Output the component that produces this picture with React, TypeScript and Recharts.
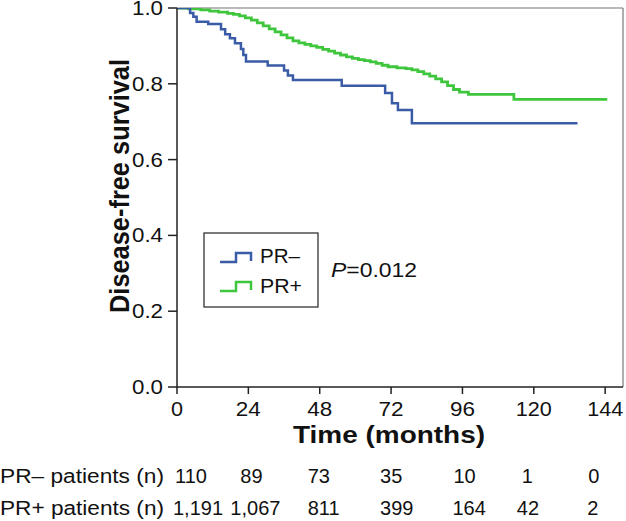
import React from 'react';
import { LineChart, Line, XAxis, YAxis, ReferenceLine, Customized } from 'recharts';

// ---------- data ----------
const monthTicks = [0, 24, 48, 72, 96, 120, 144];
const survivalTicks = [0, 0.2, 0.4, 0.6, 0.8, 1.0];

const prNegTimes = [0, 4.4, 5.5, 6.6, 10.5, 14.8, 16.2, 17.8, 19.5, 21.5, 22.3, 23.2, 30.5, 36, 37.3, 39, 55.4, 70, 72.3, 74.3, 79, 134.7];
const prNegSurvival = [1.0, 0.987, 0.977, 0.964, 0.958, 0.944, 0.931, 0.92, 0.907, 0.892, 0.876, 0.859, 0.848, 0.835, 0.822, 0.81, 0.795, 0.776, 0.749, 0.731, 0.696, 0.696];

const prPosTimes = [0, 4, 8, 11, 14, 17, 19, 21, 23, 25, 27, 29, 31, 33, 35, 37, 39, 41, 43, 45, 47, 49, 51, 53, 55, 57, 59, 61, 63, 65, 67, 69, 71, 74, 77, 79, 81, 83, 85, 87, 89, 91, 93, 95, 98, 113.3, 144.7];
const prPosSurvival = [1.0, 0.998, 0.995, 0.992, 0.989, 0.986, 0.983, 0.979, 0.974, 0.968, 0.961, 0.953, 0.945, 0.937, 0.929, 0.921, 0.913, 0.908, 0.904, 0.9, 0.896, 0.891, 0.886, 0.881, 0.876, 0.871, 0.867, 0.864, 0.861, 0.858, 0.854, 0.849, 0.845, 0.842, 0.84, 0.837, 0.832, 0.826, 0.82, 0.813, 0.805, 0.795, 0.785, 0.778, 0.772, 0.759, 0.759];

const riskNeg = ['110', '89', '73', '35', '10', '1', '0'];
const riskPos = ['1,191', '1,067', '811', '399', '164', '42', '2'];
const rowLabels = ['PR\u2013 patients (n)', 'PR+ patients (n)'];
const seriesNames = ['PR\u2013', 'PR+'];
const pValueText = '=0.012';
const xTitle = 'Time (months)';
const yTitle = 'Disease-free survival';

const negData = prNegTimes.map((t, i) => ({ t, s: prNegSurvival[i] }));
const posData = prPosTimes.map((t, i) => ({ t, s: prPosSurvival[i] }));

// ---------- style ----------
const FONT = '"Liberation Sans", Arial, Helvetica, sans-serif';
const BLUE = '#3a5ba6';
const GREEN = '#3fc63c';
const INK = '#111';
const negOffsets = [-2, -8, -12, -11, -9, -12, -17];
const posOffsets = [-4, -18, -12, -11, -10, -17, -18];

const MonthTick = (props: any) => {
  const { x, y, payload } = props;
  const i = monthTicks.indexOf(payload.value);
  return (
    <g fontFamily={FONT} fill={INK} fontSize={20}>
      <text x={x} y={y + 14} textAnchor="middle" textLength={payload.value >= 100 ? 36 : payload.value >= 10 ? 25 : 12} lengthAdjust="spacingAndGlyphs">
        {String(payload.value)}
      </text>
      {i >= 0 && (
        <text x={x + negOffsets[i]} y={y + 81} textAnchor="start">
          {riskNeg[i]}
        </text>
      )}
      {i >= 0 && (
        <text x={x + posOffsets[i]} y={y + 113} textAnchor="start">
          {riskPos[i]}
        </text>
      )}
    </g>
  );
};

const YTick = (props: any) => {
  const { x, y, payload } = props;
  return (
    <text x={x} y={y + 7} textAnchor="end" fontFamily={FONT} fill={INK} fontSize={20} textLength={31} lengthAdjust="spacingAndGlyphs">
      {Number(payload.value).toFixed(1)}
    </text>
  );
};

const Overlay = () => (
  <g fontFamily={FONT} fill={INK}>
    <text transform="translate(129,186) rotate(-90)" textAnchor="middle" fontSize={27} fontWeight="bold" textLength={254} lengthAdjust="spacingAndGlyphs">
      {yTitle}
    </text>
    <text x={389} y={443} textAnchor="middle" fontSize={24} fontWeight="bold" textLength={192} lengthAdjust="spacingAndGlyphs">
      {xTitle}
    </text>
    <text x={0} y={483} fontSize={20} textLength={164} lengthAdjust="spacingAndGlyphs">{rowLabels[0]}</text>
    <text x={0} y={515} fontSize={20} textLength={164} lengthAdjust="spacingAndGlyphs">{rowLabels[1]}</text>
    <rect x={204} y={233} width={114} height={74} fill="#fff" stroke="#222" strokeWidth={1.2} />
    <path d="M220,262 H236 V253 H251 V261" fill="none" stroke={BLUE} strokeWidth={2.5} />
    <path d="M220,291 H236 V282 H251 V290" fill="none" stroke={GREEN} strokeWidth={2.5} />
    <text x={260} y={263} fontSize={21} textLength={40} lengthAdjust="spacingAndGlyphs">{seriesNames[0]}</text>
    <text x={260} y={293} fontSize={21} textLength={42} lengthAdjust="spacingAndGlyphs">{seriesNames[1]}</text>
    <text x={331} y={277} fontSize={20} textLength={86} lengthAdjust="spacingAndGlyphs">
      <tspan fontStyle="italic">P</tspan>
      {pValueText}
    </text>
  </g>
);

export default function App() {
  return (
    <div style={{ position: 'absolute', left: 0, top: 0, width: 626, height: 521, background: '#fff' }}>
      <LineChart width={626} height={521} margin={{ top: 8, right: 3, bottom: 0, left: 0 }}>
        <XAxis
          type="number"
          dataKey="t"
          domain={[0, 150]}
          ticks={monthTicks}
          allowDataOverflow
          height={134}
          stroke="#222"
          strokeWidth={1.5}
          tickSize={7}
          tickMargin={8}
          interval={0}
          tick={<MonthTick />}
        />
        <YAxis
          type="number"
          domain={[0, 1]}
          ticks={survivalTicks}
          allowDataOverflow
          width={177}
          stroke="#222"
          strokeWidth={1.5}
          tickSize={9}
          tickMargin={5}
          interval={0}
          tick={<YTick />}
        />
        <ReferenceLine y={1} stroke="#777" strokeWidth={1.2} />
        <ReferenceLine x={150} stroke="#777" strokeWidth={1.2} />
        <Line
          data={posData}
          dataKey="s"
          type="stepAfter"
          stroke={GREEN}
          strokeWidth={2.8}
          dot={false}
          activeDot={false}
          isAnimationActive={false}
        />
        <Line
          data={negData}
          dataKey="s"
          type="stepAfter"
          stroke={BLUE}
          strokeWidth={2.5}
          dot={false}
          activeDot={false}
          isAnimationActive={false}
        />
        <Customized component={<Overlay />} />
      </LineChart>
    </div>
  );
}
